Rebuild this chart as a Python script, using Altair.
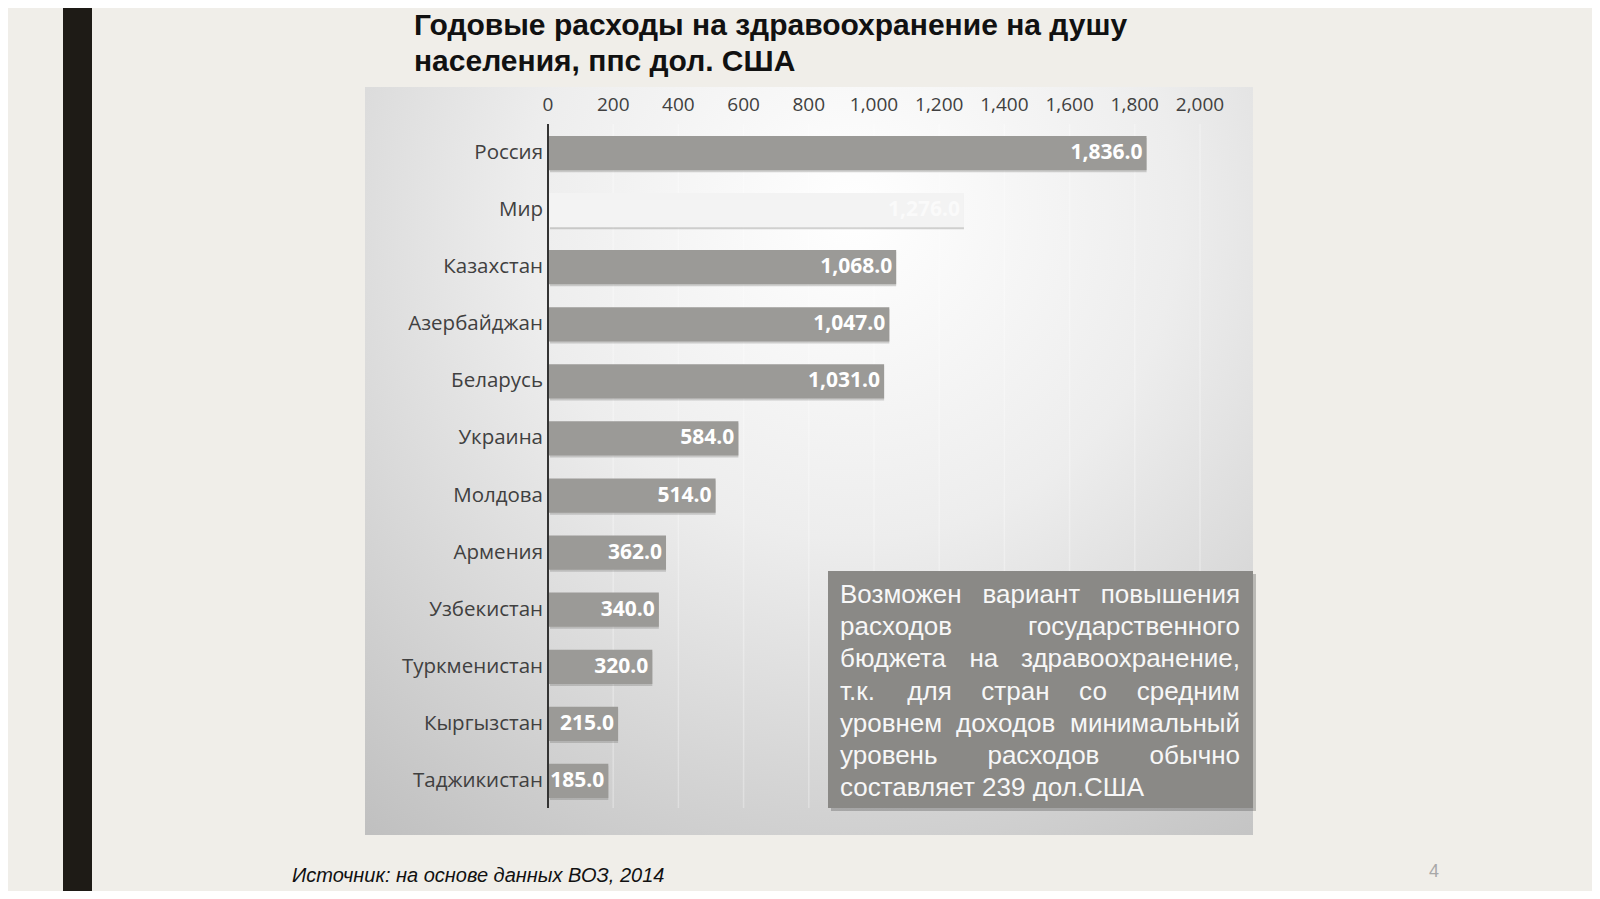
import altair as alt
import pandas as pd

# --- data ---
countries = ['Россия', 'Мир', 'Казахстан', 'Азербайджан', 'Беларусь', 'Украина',
             'Молдова', 'Армения', 'Узбекистан', 'Туркменистан', 'Кыргызстан',
             'Таджикистан']
spending = [1836.0, 1276.0, 1068.0, 1047.0, 1031.0, 584.0, 514.0, 362.0,
            340.0, 320.0, 215.0, 185.0]
ticks = [0, 200, 400, 600, 800, 1000, 1200, 1400, 1600, 1800, 2000]

title_lines = ['Годовые расходы на здравоохранение на душу',
               'населения, ппс дол. США']
note_lines = ['Возможен вариант повышения',
              'расходов государственного',
              'бюджета на здравоохранение,',
              'т.к. для стран со средним',
              'уровнем доходов минимальный',
              'уровень расходов обычно',
              'составляет 239 дол.США']
source = 'Источник: на основе данных ВОЗ, 2014'
page_no = '4'

W, H = 1584, 883
BG = '#f0eee9'
BAR = '#9b9a97'
LABEL_FONT = 'Open Sans'

bars = pd.DataFrame({'country': countries, 'value': spending})
bars['label'] = bars['value'].map(lambda v: f'{v:,.1f}')
tick_df = pd.DataFrame({'tick': ticks})
tick_df['label'] = tick_df['tick'].map(lambda v: f'{v:,}')

one = pd.DataFrame({'a': [0]})

x_scale = alt.Scale(domain=[0, 2000], range=[540, 1192])
y_scale = alt.Scale(domain=countries, range=[116.5, 801.5],
                    paddingInner=0.4, paddingOuter=0.2)
X = alt.X('value:Q', scale=x_scale, axis=None)
Y = alt.Y('country:N', scale=y_scale, axis=None, sort=countries)


def box(x, x2, y, y2, **kw):
    return alt.Chart(one).mark_rect(**kw).encode(
        x=alt.value(x), x2=alt.value(x2), y=alt.value(y), y2=alt.value(y2))


# rough Arial widths (em) for laying out the justified note
char_w = {'а': .556, 'б': .573, 'в': .531, 'г': .365, 'д': .583, 'е': .556,
          'ж': .669, 'з': .458, 'и': .559, 'й': .559, 'к': .438, 'л': .583,
          'м': .688, 'н': .552, 'о': .556, 'п': .542, 'р': .556, 'с': .5,
          'т': .458, 'у': .5, 'х': .5, 'ч': .521, 'ш': .802, 'ь': .521,
          'ы': .719, 'ю': .75, 'я': .542, 'В': .667, 'С': .722, 'Ш': .917,
          'А': .667, '.': .278, ',': .278}


def text_width(s, size):
    return sum(char_w.get(c, .556) for c in s) * size


note_size = 26
note_left, note_right, note_top, note_step = 832, 1232, 587, 32.2
rows = []
for i, line in enumerate(note_lines):
    words = line.split(' ')
    y = note_top + i * note_step
    if i == len(note_lines) - 1 or len(words) == 1:
        rows.append({'w': line, 'px': note_left, 'py': y, 'al': 'left'})
        continue
    widths = [text_width(w, note_size) for w in words]
    gap = (note_right - note_left - sum(widths)) / (len(words) - 1)
    pos = note_left
    for j, (w, wd) in enumerate(zip(words, widths)):
        if j == len(words) - 1:
            rows.append({'w': w, 'px': note_right, 'py': y, 'al': 'right'})
        else:
            rows.append({'w': w, 'px': pos, 'py': y, 'al': 'left'})
        pos += wd + gap
note_df = pd.DataFrame(rows)

panel_fill = alt.RadialGradient(
    gradient='radial',
    stops=[alt.GradientStop(color='#ffffff', offset=0),
           alt.GradientStop(color='#ededed', offset=0.4),
           alt.GradientStop(color='#bdbdbd', offset=1)],
    x1=0.55, y1=0.22, r1=0, x2=0.55, y2=0.22, r2=0.92)

stripe = box(55, 84, 0, H, color='#1e1b16')
panel = box(357, 1245, 79, 827, fill=panel_fill)

grid = alt.Chart(tick_df[tick_df.tick > 0]).mark_rule(
    color='white', opacity=0.3, strokeWidth=1.5).encode(
    x=alt.X('tick:Q', scale=x_scale, axis=None),
    y=alt.value(116), y2=alt.value(800))

tick_labels = alt.Chart(tick_df).mark_text(
    font=LABEL_FONT, fontSize=19, color='#404040', baseline='middle').encode(
    x=alt.X('tick:Q', scale=x_scale, axis=None),
    y=alt.value(97), text='label:N')

shadow = alt.Chart(bars).mark_bar(
    color='#6e6d6a', opacity=0.3, xOffset=2, yOffset=2).encode(
    x=alt.X('zero:Q', scale=x_scale, axis=None), x2='value:Q', y=Y
).transform_calculate(zero='0')

bar_layer = alt.Chart(bars).mark_bar().encode(
    x=alt.X('zero:Q', scale=x_scale, axis=None), x2='value:Q', y=Y,
    color=alt.condition(alt.datum.country == 'Мир',
                        alt.value('#f3f3f3'), alt.value(BAR))
).transform_calculate(zero='0')

value_labels = alt.Chart(bars).mark_text(
    font=LABEL_FONT, fontSize=21, fontWeight='bold', align='right',
    baseline='middle', dx=-4).encode(
    x=X, y=Y, text='label:N',
    color=alt.condition(alt.datum.country == 'Мир',
                        alt.value('#fafafa'), alt.value('white')))

cat_labels = alt.Chart(bars).mark_text(
    font=LABEL_FONT, fontSize=20.5, color='#404040', align='right',
    baseline='middle').encode(
    x=alt.value(535), y=Y, text='country:N')

domain = alt.Chart(one).mark_rule(color='#333333', strokeWidth=2).encode(
    x=alt.value(540), y=alt.value(116), y2=alt.value(800))

note_shadow = box(823, 1248, 566, 803, color='#555555', opacity=0.35)
note_box = box(820, 1245, 563, 800, color='#8a8986')
note_text_left = alt.Chart(note_df[note_df.al == 'left']).mark_text(
    font='Liberation Sans', fontSize=note_size, color='#f7f7f7',
    baseline='middle', align='left').encode(
    x=alt.X('px:Q', scale=None), y=alt.Y('py:Q', scale=None), text='w:N')
note_text_right = alt.Chart(note_df[note_df.al == 'right']).mark_text(
    font='Liberation Sans', fontSize=note_size, color='#f7f7f7',
    baseline='middle', align='right').encode(
    x=alt.X('px:Q', scale=None), y=alt.Y('py:Q', scale=None), text='w:N')

title = alt.Chart(one).mark_text(
    font='Liberation Sans', fontSize=30, fontWeight='bold', color='#111111',
    align='left', baseline='middle', lineHeight=36).encode(
    x=alt.value(406), y=alt.value(18), text=alt.value(title_lines))

footer = alt.Chart(one).mark_text(
    font='Liberation Sans', fontSize=20, fontStyle='italic', color='#111111',
    align='left', baseline='middle').encode(
    x=alt.value(284), y=alt.value(868), text=alt.value(source))

page = alt.Chart(one).mark_text(
    font='Liberation Sans', fontSize=18, color='#a8a8a8',
    align='center', baseline='middle').encode(
    x=alt.value(1426), y=alt.value(864), text=alt.value(page_no))

chart = alt.layer(
    stripe, panel, grid, tick_labels, shadow, bar_layer, value_labels,
    cat_labels, domain, note_shadow, note_box, note_text_left,
    note_text_right, title, footer, page
).properties(
    width=W, height=H, padding=0, autosize='none', background=BG
).configure_view(stroke=None)

chart.save('out.html', embed_options={'renderer': 'svg', 'actions': False})
